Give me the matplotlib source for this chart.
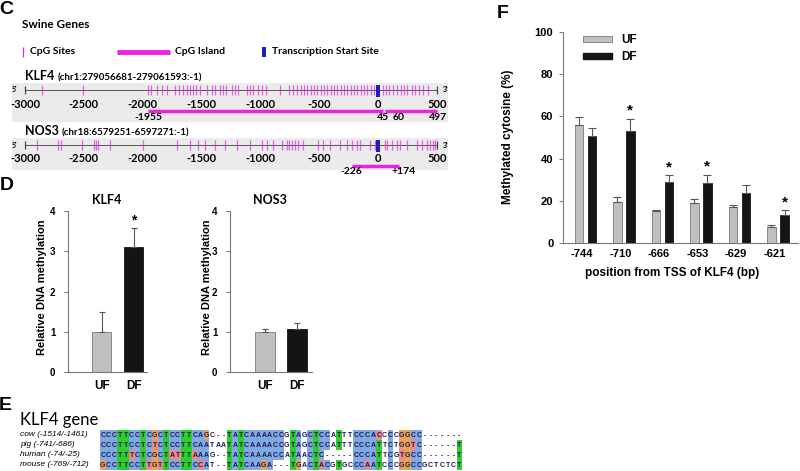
import matplotlib
matplotlib.use("Agg")
import matplotlib.pyplot as plt
from matplotlib.patches import Rectangle, Patch

plt.rcParams["font.family"] = ["Liberation Sans", "DejaVu Sans"]

W, H = 800, 471

# ---------------- panel C: swine gene tracks (bp from TSS)
track_ticks = [-3000, -2500, -2000, -1500, -1000, -500, 0, 500]
klf4_sites = [-2858, -2504, -1958, -1929, -1881, -1838, -1796, -1726, -1689, -1655,
              -1626, -1598, -1570, -1547, -1513, -1456, -1414, -1386, -1343, -1315,
              -1292, -1244, -1216, -1187, -1116, -1088, -1060, -1017, -989, -952,
              -833, -754, -720, -692, -658, -629, -601, -573, -544, -516, -488,
              -459, -431, -403, -374, -346, -318, -289, -261, -233, -205, -176,
              -148, -120, -91, -63, -35, 39, 67, 96, 130, 158, 192, 220, 249, 285,
              314, 351, 385, 427]
klf4_islands = [(-1955, 45), (60, 497)]
klf4_island_text = [(-1955, "-1955"), (40, "45"), (170, "60"), (505, "497")]
nos3_sites = [-2901, -2717, -2697, -2518, -2414, -2397, -2380, -2278, -1995, -1712,
              -1598, -1528, -1471, -1386, -1300, -1200, -1090, -989, -946, -890,
              -819, -776, -754, -734, -706, -677, -635, -507, -465, -408, -323,
              -267, -224, -182, -153, -68, -26, 59, 73, 116, 158, 186, 243, 328,
              370, 413, 441, 470, 485]
nos3_islands = [(-226, 174)]
nos3_island_text = [(-226, "-226"), (220, "+174")]

# ---------------- panel D
groups = ["UF", "DF"]
klf4_rel = [1.0, 3.1]
klf4_rel_err = [0.5, 0.48]
klf4_sig = [False, True]
nos3_rel = [1.0, 1.08]
nos3_rel_err = [0.06, 0.14]
nos3_sig = [False, False]

# ---------------- panel E
species = ["cow (-1514/-1461)", "pig (-741/-686)", "human (-74/-25)", "mouse (-769/-712)"]
seqs = ["CCCTTCCTCGCTCCTTCAGC--TATCAAAACCGTAGCTCCATTTCCCACCCCGGCC-------",
        "CCCTTCCTCTCTCCTTCAATAATATCAAAACCGTAGCTCCATTTCCCATTCTGGTC------T",
        "CCCTTTCTCGCTATTTAAAG--TATCAAAACCATAACTC-----CCCATTCGTGCC------T",
        "GCCTTCCTTGTTCCTTCCAT--TATCAAGA---TGACTACGTGCCCAATCCCGGCCGCTCTCT"]

# ---------------- panel F
cpg_pos = ["-744", "-710", "-666", "-653", "-629", "-621"]
uf_meth = [55.9, 19.6, 15.2, 19.1, 17.2, 7.4]
uf_err = [3.7, 2.3, 0.4, 1.6, 0.7, 1.1]
df_meth = [50.9, 53.1, 29.0, 28.4, 23.5, 13.3]
df_err = [3.6, 5.7, 3.2, 4.0, 4.0, 2.3]
df_sig = [False, True, True, True, False, True]

UF_C, UF_E, DF_C = "#c0c0c0", "#7a7a7a", "#141414"

fig = plt.figure(figsize=(W / 100, H / 100), dpi=100)


def box(x0, y0, x1, y1):
    return [x0 / W, 1 - y1 / H, (x1 - x0) / W, (y1 - y0) / H]


def ftext(x, y, s, **kw):
    kw.setdefault("va", "center")
    return fig.text(x / W, 1 - y / H, s, **kw)


def px2bp(px):
    return (px - 25) * 3500 / 412 - 3000


# panel letters
for letter, (lx, ly) in zip("CDEF", [(6, 10), (7, 186), (5, 405), (503, 13)]):
    ftext(lx, ly, letter, ha="center", fontsize=14, fontweight="bold")

# ---- C
ax_c = fig.add_axes(box(0, 0, 470, 180))
ax_c.set_xlim(px2bp(0), px2bp(470))
ax_c.set_ylim(180, 0)
ax_c.axis("off")
lato = dict(family=["Lato", "DejaVu Sans"], fontweight="bold")

ax_c.text(px2bp(22), 24, "Swine Genes", va="center", fontsize=8.5, **lato)
ax_c.vlines(px2bp(23), 47, 57, color="#dd33dd", lw=1)
ax_c.text(px2bp(30), 52, "CpG Sites", va="center", fontsize=7.5, **lato)
ax_c.hlines(52, px2bp(117), px2bp(170), color="#ee22dd", lw=3.5)
ax_c.text(px2bp(175), 52, "CpG Island", va="center", fontsize=7.5, **lato)
ax_c.add_patch(Rectangle((px2bp(262), 47), 30, 10, color="#1f1fb4", lw=0))
ax_c.text(px2bp(272), 52, "Transcription Start Site", va="center", fontsize=7.5, **lato)


def draw_track(y, band_h, name, coords, sites, islands, island_text):
    ax_c.add_patch(Rectangle((px2bp(12), y - 7), px2bp(448) - px2bp(12), band_h,
                             color="#ebebeb", lw=0, zorder=0))
    t = ax_c.text(-3000, y - 10, name, va="baseline", fontsize=9, **lato)
    ax_c.annotate(coords, xy=(1, 0), xycoords=t, xytext=(2, 0), textcoords="offset points",
                  va="bottom", fontsize=7, **lato)
    ax_c.hlines(y, -3000, 500, color="#555555", lw=0.7)
    ax_c.vlines([-3000, 500], y - 4, y + 4, color="#444444", lw=0.9)
    ax_c.vlines(sites, y - 5, y + 5, color="#dd33dd", lw=0.9, alpha=0.75)
    ax_c.add_patch(Rectangle((-18, y - 5), 36, 12, color="#1f1fb4", lw=0, zorder=3))
    for a, b in islands:
        ax_c.hlines(y + 21, a, b, color="#ee22dd", lw=2.5)
    for tk in track_ticks:
        ax_c.text(tk, y + 14, str(tk), ha="center", va="center", fontsize=8, **lato)
    for pos, txt in island_text:
        ax_c.text(pos, y + 27, txt, ha="center", va="center", fontsize=7.5, **lato)
    ax_c.text(px2bp(14), y, "5'", ha="center", va="center", fontsize=5, **lato)
    ax_c.text(px2bp(446), y, "3'", ha="center", va="center", fontsize=5, **lato)


draw_track(90, 39, "KLF4", "(chr1:279056681-279061593:-1)", klf4_sites, klf4_islands,
           klf4_island_text)
draw_track(145, 32, "NOS3", "(chr18:6579251-6597271:-1)", nos3_sites, nos3_islands,
           nos3_island_text)


# ---- D
def bar_panel(rect, xlim, vals, errs, sig, title, title_x, ylabel_x):
    ax = fig.add_axes(box(*rect))
    x = list(range(len(groups)))
    ax.bar(x, vals, width=0.6, color=[UF_C, DF_C], edgecolor=[UF_E, DF_C], lw=0.6)
    ax.errorbar(x, vals, yerr=[[0] * len(vals), errs], fmt="none", ecolor="#555555",
                elinewidth=0.8, capsize=2.5, capthick=0.8)
    for xi, v, e, s in zip(x, vals, errs, sig):
        if s:
            ax.text(xi, v + e + 0.02, "*", ha="center", va="bottom", fontsize=10,
                    fontweight="bold")
    ax.set_xlim(*xlim)
    ax.set_ylim(0, 4)
    ax.set_yticks(range(5))
    ax.set_xticks(x)
    ax.set_xticklabels(groups, fontsize=8.5, fontweight="bold")
    for lab in ax.get_yticklabels():
        lab.set_fontweight("bold")
        lab.set_fontsize(7)
    ax.tick_params(axis="x", length=0, pad=6)
    ax.tick_params(axis="y", length=3, width=0.7, color="#777777", pad=6)
    for side in ["top", "right"]:
        ax.spines[side].set_visible(False)
    for side in ["left", "bottom"]:
        ax.spines[side].set_color("#777777")
        ax.spines[side].set_linewidth(0.8)
    ftext(title_x, 200, title, ha="center", fontsize=9, **lato)
    ftext(ylabel_x, 287, "Relative DNA methylation", ha="center", rotation=90,
          fontsize=8, fontweight="bold")
    return ax


bar_panel((68, 211, 147, 372), (-1.05, 1.42), klf4_rel, klf4_rel_err, klf4_sig,
          "KLF4", 107, 42)
bar_panel((230, 211, 312, 372), (-1.09, 1.47), nos3_rel, nos3_rel_err, nos3_sig,
          "NOS3", 270, 207)

# ---- E
ftext(20, 420, "KLF4 gene", fontsize=12, family=["Lato", "DejaVu Sans"])
for r, name in enumerate(species):
    ftext(20, 435 + 10 * r, name, fontsize=6, style="italic")

ncol = len(seqs[0])
ax_e = fig.add_axes(box(100, 430, 100 + 5.75 * ncol, 470))
ax_e.set_xlim(0, ncol)
ax_e.set_ylim(len(seqs), 0)
ax_e.axis("off")
base_col = {"C": "#80a9e6", "A": "#80a9e6", "T": "#2ecc2e", "G": "#eba254"}
for c in range(ncol):
    col = [s[c] for s in seqs]
    letters = [ch for ch in col if ch != "-"]
    counts = {ch: letters.count(ch) for ch in set(letters)}
    maj = max(counts, key=counts.get) if counts else None
    if maj is not None and counts[maj] < 3:
        maj = None
    for r, ch in enumerate(col):
        if ch != "-" and maj is not None:
            if ch == "G" or ch == maj:
                fc = base_col[ch]
            else:
                fc = "#ec8a8a"
            ax_e.add_patch(Rectangle((c, r + 0.04), 1, 0.92, color=fc, lw=0))
        ax_e.text(c + 0.5, r + 0.52, ch, ha="center", va="center", fontsize=5,
                  fontweight="bold", color="#1c1c50")

# ---- F
ax_f = fig.add_axes(box(563, 32, 798, 243))
xi = list(range(len(cpg_pos)))
x_uf = [i - 0.08 for i in xi]
x_df = [i + 0.26 for i in xi]
ax_f.bar(x_uf, uf_meth, width=0.22, color=UF_C, edgecolor=UF_E, lw=0.6, label="UF")
ax_f.bar(x_df, df_meth, width=0.22, color=DF_C, edgecolor=DF_C, lw=0.6, label="DF")
ax_f.errorbar(x_uf, uf_meth, yerr=[[0] * len(xi), uf_err], fmt="none", ecolor="#555555",
              elinewidth=0.8, capsize=3, capthick=0.8)
ax_f.errorbar(x_df, df_meth, yerr=[[0] * len(xi), df_err], fmt="none", ecolor="#555555",
              elinewidth=0.8, capsize=3, capthick=0.8)
for x, v, e, s in zip(x_df, df_meth, df_err, df_sig):
    if s:
        ax_f.text(x, v + e + 0.5, "*", ha="center", va="bottom", fontsize=11,
                  fontweight="bold")
ax_f.set_xlim(-0.49, 5.61)
ax_f.set_ylim(0, 100)
ax_f.set_yticks(range(0, 101, 20))
ax_f.set_xticks(xi)
ax_f.set_xticklabels(cpg_pos, fontsize=8, fontweight="bold")
for lab in ax_f.get_yticklabels():
    lab.set_fontweight("bold")
    lab.set_fontsize(8)
ax_f.tick_params(axis="x", length=0, pad=4)
ax_f.tick_params(axis="y", length=3, width=0.7, color="#777777", pad=4)
for side in ["top", "right"]:
    ax_f.spines[side].set_visible(False)
for side in ["left", "bottom"]:
    ax_f.spines[side].set_color("#777777")
    ax_f.spines[side].set_linewidth(0.8)
ax_f.legend(handles=[Patch(fc=UF_C, ec=UF_E, lw=0.6), Patch(fc=DF_C, ec=DF_C)],
            labels=["UF", "DF"], loc="upper left", bbox_to_anchor=(0.085, 0.99),
            frameon=False, borderpad=0, borderaxespad=0, handlelength=2.5,
            handleheight=0.45, handletextpad=0.7, labelspacing=0.45,
            prop=dict(weight="bold", size=8.5))
ftext(672, 273, "position from TSS of KLF4 (bp)", ha="center", fontsize=8.5,
      fontweight="bold")
ftext(508, 137, "Methylated cytosine (%)", ha="center", rotation=90, fontsize=8.5,
      fontweight="bold")

fig.savefig("out.png", dpi=100)
